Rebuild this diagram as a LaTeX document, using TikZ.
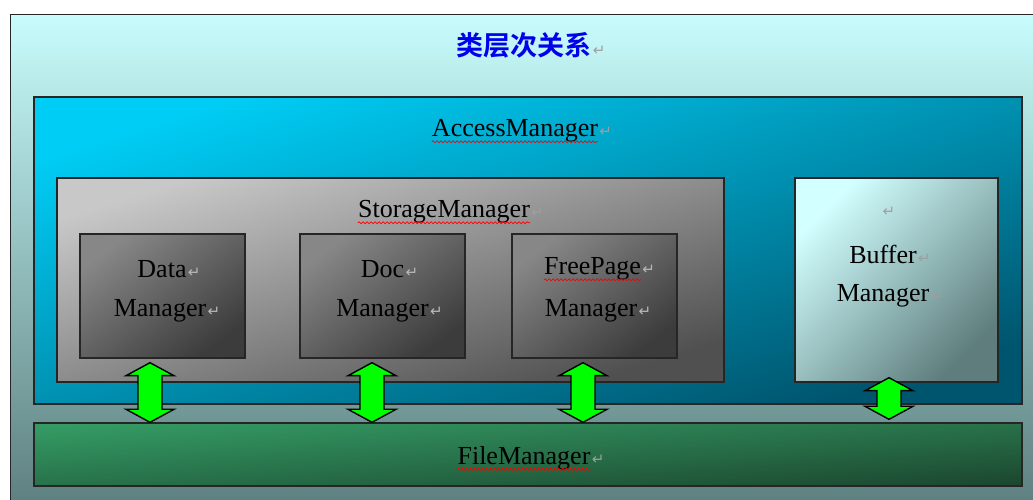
\documentclass[tikz,border=0pt]{standalone}
\usepackage{fontspec}
\setmainfont{Liberation Serif}
\newfontfamily\cjk{Noto Sans CJK SC Bold}
\newfontfamily\symf{DejaVu Sans}
\usetikzlibrary{calc,decorations.pathmorphing}
\definecolor{bgtop}{RGB}{200,252,252}
\definecolor{bgbot}{RGB}{92,125,125}
\definecolor{amtop}{RGB}{0,205,245}
\definecolor{ambot}{RGB}{0,85,110}
\definecolor{smtop}{RGB}{200,200,200}
\definecolor{smbot}{RGB}{80,80,80}
\definecolor{intop}{RGB}{135,135,135}
\definecolor{inbot}{RGB}{60,60,60}
\definecolor{bftop}{RGB}{210,255,255}
\definecolor{bfbot}{RGB}{95,125,125}
\definecolor{fmtop}{RGB}{52,155,100}
\definecolor{fmbot}{RGB}{28,72,48}
\definecolor{titleblue}{RGB}{0,0,235}
\definecolor{agreen}{RGB}{0,255,0}
\tikzset{
  box/.style={draw=black!85, line width=1.4pt, inner sep=0pt},
  diag/.style n args={3}{top color=#1, bottom color=#2, shading angle=#3},
  lab/.style={inner sep=0pt, font=\fontsize{26}{30}\selectfont, text=black},
  pm/.style={inner sep=0pt, font=\symf\fontsize{15}{18}\selectfont, text=gray!75, anchor=base west, xshift=1pt},
  wavy/.style={draw=red, line width=0.7pt, decorate, decoration={snake, amplitude=1pt, segment length=4pt}},
  garrow/.style={fill=agreen, draw=black, line width=1.4pt, line join=miter}
}
\newcommand\garr[2]{\draw[garrow] let \p1=(#1), \p2=(#2) in (\p1) -- (\x1+24pt,\y1-13pt) -- (\x1+12pt,\y1-13pt) -- (\x1+12pt,\y2+13pt) -- (\x1+24pt,\y2+13pt) -- (\x1,\y2) -- (\x1-24pt,\y2+13pt) -- (\x1-12pt,\y2+13pt) -- (\x1-12pt,\y1-13pt) -- (\x1-24pt,\y1-13pt) -- cycle;}
\begin{document}
\begin{tikzpicture}[x=1pt,y=1pt]
\useasboundingbox (0,0) rectangle (1033,500);
\fill[white] (0,0) rectangle (1033,500);
\begin{scope}
\clip (0,0) rectangle (1033,500);
\node[box, top color=bgtop, bottom color=bgbot, minimum width=1060pt, minimum height=500pt, anchor=north west] (outer) at (10,486) {};
\end{scope}
% title
\node[inner sep=0pt, font=\cjk\fontsize{27}{30}\selectfont, text=titleblue] (title) at (524,455) {类层次关系};
\node[pm] (pmt) at (title.base east) {↵};
% access manager
\node[box, diag={amtop}{ambot}{17.3}, minimum width=988pt, minimum height=307pt] (am) at (528,249.5) {};
\node[lab] (tam) at (515,369) {AccessManager};
\node[pm] (pmam) at (tam.base east) {↵};
\draw[wavy] ($(tam.base west)+(0,-5)$) -- ($(tam.base east)+(0,-5)$);
% storage manager
\node[box, diag={smtop}{smbot}{17.0}, minimum width=667pt, minimum height=204pt] (sm) at (390.5,220) {};
\node[lab] (tsm) at (444,288) {StorageManager};
\node[pm] (pmsm) at (tsm.base east) {↵};
\draw[wavy] ($(tsm.base west)+(0,-5)$) -- ($(tsm.base east)+(0,-5)$);
% inner managers
\node[box, diag={intop}{inbot}{36.9}, minimum width=165pt, minimum height=124pt] (dm) at (162.5,204) {};
\node[box, diag={intop}{inbot}{36.9}, minimum width=165pt, minimum height=124pt] (docm) at (382.5,204) {};
\node[box, diag={intop}{inbot}{36.9}, minimum width=165pt, minimum height=124pt] (fpm) at (594.5,204) {};
\node[lab] (tdm1) at (162,231) {Data};
\node[pm, text=gray!55] at (tdm1.base east) {↵};
\node[lab] (tdm2) at (160,189) {Manager};
\node[pm, text=gray!55] at (tdm2.base east) {↵};
\node[lab] (tdoc1) at (382.5,231) {Doc};
\node[pm, text=gray!55] at (tdoc1.base east) {↵};
\node[lab] (tdoc2) at (382.5,189) {Manager};
\node[pm, text=gray!55] at (tdoc2.base east) {↵};
\node[lab] (tfp1) at (592.5,231) {FreePage};
\node[pm, text=gray!55] at (tfp1.base east) {↵};
\draw[wavy] ($(tfp1.base west)+(0,-5)$) -- ($(tfp1.base east)+(0,-5)$);
\node[lab] (tfp2) at (591,189) {Manager};
\node[pm, text=gray!55] at (tfp2.base east) {↵};
% buffer manager
\node[box, diag={bftop}{bfbot}{45}, minimum width=203pt, minimum height=204pt] (bm) at (896.5,220) {};
\node[pm, anchor=center, xshift=0pt] (pmbm) at (888,288) {↵};
\node[lab] (tbm1) at (883,246) {Buffer};
\node[pm] at (tbm1.base east) {↵};
\node[lab] (tbm2) at (883,204) {Manager};
\node[pm] at (tbm2.base east) {↵};
% file manager
\node[box, diag={fmtop}{fmbot}{3.7}, minimum width=988pt, minimum height=63pt] (fm) at (528,45.5) {};
\node[lab] (tfm) at (524,42) {FileManager};
\node[pm] (pmfm) at (tfm.base east) {↵};
\draw[wavy] ($(tfm.base west)+(0,-5)$) -- ($(tfm.base east)+(0,-5)$);
% arrows
\coordinate (a1t) at ($(dm.south)+(-12.5,-4)$);
\coordinate (a1b) at (a1t |- fm.north);
\coordinate (a2t) at ($(docm.south)+(-10.5,-4)$);
\coordinate (a2b) at (a2t |- fm.north);
\coordinate (a3t) at ($(fpm.south)+(-11.5,-4)$);
\coordinate (a3b) at (a3t |- fm.north);
\coordinate (a4t) at ($(bm.south)+(-7.5,5)$);
\coordinate (a4b) at ($(a4t |- fm.north)+(0,3)$);
\garr{a1t}{a1b}
\garr{a2t}{a2b}
\garr{a3t}{a3b}
\garr{a4t}{a4b}
\end{tikzpicture}
\end{document}
